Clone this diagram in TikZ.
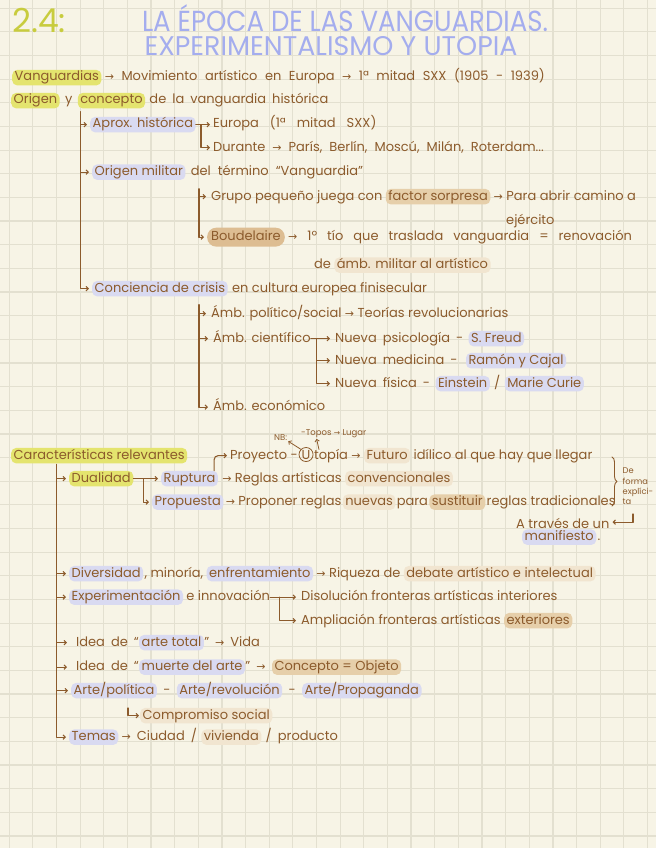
\documentclass[tikz,border=0pt]{standalone}
\usepackage{fontspec}
\setmainfont{Poppins}
\newfontfamily\symf{DejaVu Sans}
\usetikzlibrary{arrows.meta,calc,decorations.pathreplacing}
\definecolor{paper}{HTML}{F7F4E6}
\definecolor{gridc}{HTML}{E3E0D0}
\definecolor{ink}{HTML}{8C5B2C}
\definecolor{hly}{HTML}{E4E46E}
\definecolor{hll}{HTML}{D9DAF1}
\definecolor{hlt}{HTML}{E6CFAA}
\definecolor{hltd}{HTML}{DDBD92}
\definecolor{tyel}{HTML}{C8CC3E}
\definecolor{tlav}{HTML}{A4ADEE}
\newcommand\bodyfont{\fontsize{13}{15}\selectfont}
\newcommand\smallfont{\fontsize{8.5}{10.5}\selectfont}
\newcommand\notefont{\fontsize{8.3}{10.3}\selectfont}
\newcommand\ar{{\symf\fontsize{11}{11}\selectfont →}}
\newcommand\sar{{\symf\fontsize{7.5}{7.5}\selectfont →}}
\newcommand\wsp[1]{\spaceskip=#1\relax}
\begin{document}
\begin{tikzpicture}[x=1pt,y=-1pt,
 txt/.style={anchor=base west,inner sep=0pt,text=ink,font=\bodyfont,text height=9.3pt,text depth=2.6pt},
 hbox/.style={inner xsep=2.5pt,inner ysep=1.8pt,rounded corners=5pt},
 hy/.style={hbox,fill=hly},
 hl/.style={hbox,fill=hll},
 ht/.style={hbox,fill=hlt},
 htf/.style={hbox,fill=hlt!55},
 small/.style={anchor=base west,inner sep=0pt,text=ink,font=\smallfont},
 conn/.style={draw=ink,line width=1.1pt,line cap=round,line join=round},
 arr/.style={conn,-{Straight Barb[length=2.2pt,width=4.5pt]},shorten >=3pt},
]
\fill[paper] (0,0) rectangle (656,848);
\useasboundingbox (0,0) rectangle (656,848);
\foreach \i in {0,...,27} \draw[gridc,line width=1.2pt] ({9.2+23.64*\i},0) -- ++(0,848);
\foreach \j in {0,...,35} \draw[gridc,line width=1.2pt] (0,{8.2+23.65*\j}) -- ++(656,0);

% title
\node[anchor=base west,inner sep=0pt,text=tyel,font=\fontsize{33}{33}\selectfont] (num) at (12,33) {2.4:};
\node[anchor=south,inner sep=0pt,text=tlav,align=center,font=\fontsize{28}{24.5}\selectfont] (title) at (331,56) {\hspace*{28pt}\resizebox{406pt}{\height}{\fontsize{29}{29}\selectfont LA ÉPOCA DE LAS VANGUARDIAS.}\\\resizebox{373pt}{\height}{\fontsize{27}{27}\selectfont EXPERIMENTALISMO Y UTOPIA}};

% first lines
\node[txt,hy] (vang) at (12,81) {Vanguardias};
\node[txt] (vangdef) at ([xshift=3pt]vang.base east) {\wsp{7.5pt}\ar\ Movimiento artístico en Europa \ar\ 1ª mitad SXX (1905 - 1939)};
\node[txt,hy] (orig) at (11,104) {Origen};
\node[txt] (yy) at ([xshift=5pt]orig.base east) {y};
\node[txt,hy] (concep) at ([xshift=5pt]yy.base east) {concepto};
\node[txt] (hist) at ([xshift=4pt]concep.base east) {\wsp{6pt}de la vanguardia histórica};

% tree 1
\coordinate (r1) at (80.7,112);
\node[txt,hl] (aprox) at (90,128) {Aprox. histórica};
\node[txt] (europa) at (213,128) {\wsp{11pt}Europa (1ª mitad SXX)};
\node[txt] (durante) at (213,151) {\wsp{7pt}Durante \ar\ París, Berlín, Moscú, Milán, Roterdam...};
\draw[arr] (aprox.east) -- (europa.west);
\coordinate (k1) at ($(aprox.east)!0.3!(europa.west)$);
\draw[arr] (k1) |- (durante.west);
\node[txt,hl] (omil) at (92,175.5) {Origen militar};
\node[txt] (omil2) at ([xshift=5pt]omil.base east) {\wsp{7pt}del término “Vanguardia”};

% tree 2
\coordinate (r2) at (199,189);
\node[txt] (grupo) at (211,200) {Grupo pequeño juega con};
\node[txt,ht] (sorp) at ([xshift=3pt]grupo.base east) {factor sorpresa};
\node[txt] (para) at ([xshift=3pt]sorp.base east) {\ar\ Para abrir camino a};
\node[txt] (ejer) at (506,224) {ejército};
\node[txt,hbox,fill=hltd,inner xsep=4pt,inner ysep=3.5pt,rounded corners=9pt] (boud) at (207,240.5) {Boudelaire};
\node[txt] (boud2) at ([xshift=3pt]boud.base east) {\wsp{10pt}\ar\ 1º tío que traslada vanguardia = renovación};
\node[txt] (de1) at (314,268.5) {de};
\node[txt,htf] (ambm) at ([xshift=3pt]de1.base east) {ámb. militar al artístico};
\draw[arr,shorten >=5pt] (r2) |- (grupo.west);
\draw[arr] (r2) |- (boud.west);

\node[txt,hl] (concri) at (92,292) {Conciencia de crisis};
\node[txt] (concri2) at ([xshift=4pt]concri.base east) {en cultura europea finisecular};
\draw[arr] (r1) |- (aprox.west);
\draw[arr] (r1) |- (omil.west);
\draw[arr] (r1) |- (concri.west);

% tree 3
\coordinate (r3) at (199,305);
\node[txt] (pol) at (211,317) {Ámb. político/social \ar\ Teorías revolucionarias};
\node[txt] (cien) at (213,342) {Ámb. científico};
\node[txt] (psi) at (335,342) {\wsp{6pt}Nueva psicología -};
\node[txt,hl] (freud) at ([xshift=5pt]psi.base east) {S. Freud};
\node[txt] (med) at (335,364) {\wsp{6pt}Nueva medicina -};
\node[txt,hl] (cajal) at ([xshift=8pt]med.base east) {Ramón y Cajal};
\node[txt] (fis) at (335,387) {\wsp{6pt}Nueva física -};
\node[txt,hl] (einst) at ([xshift=5pt]fis.base east) {Einstein};
\node[txt] (sl) at ([xshift=4pt]einst.base east) {/};
\node[txt,hl] (curie) at ([xshift=4pt]sl.base east) {Marie Curie};
\node[txt] (eco) at (213,410.5) {Ámb. económico};
\draw[arr,shorten >=5pt] (r3) |- (pol.west);
\draw[arr,shorten >=5pt] (r3) |- (cien.west);
\draw[arr,shorten >=5pt] (r3) |- (eco.west);
\draw[arr,shorten >=5pt] (cien.east) -- (psi.west);
\coordinate (k3) at ($(cien.east)!0.25!(psi.west)$);
\draw[arr,shorten >=5pt] (k3) |- (med.west);
\draw[arr,shorten >=5pt] (k3) |- (fis.west);

% caracteristicas
\node[txt,hy] (carac) at (11,459) {Características relevantes};
\coordinate (r4) at (56.5,465);
\node[txt,hy] (dual) at (69,482) {Dualidad};
\node[txt,hl] (rup) at (161,482) {Ruptura};
\node[txt] (rup2) at ([xshift=4pt]rup.base east) {\ar\ Reglas artísticas};
\node[txt,htf] (conv) at ([xshift=3pt]rup2.base east) {convencionales};
\node[txt,hl] (prop) at (152,505.5) {Propuesta};
\node[txt] (prop2) at ([xshift=2pt]prop.base east) {\ar\ Proponer reglas};
\node[txt,htf] (nuev) at ([xshift=1pt]prop2.base east) {nuevas};
\node[txt] (para2) at ([xshift=1pt]nuev.base east) {para};
\node[txt,ht] (sust) at ([xshift=1pt]para2.base east) {sustituir};
\node[txt] (trad) at ([xshift=1pt]sust.base east) {reglas tradicionales};
\draw[arr] (dual.east) -- (rup.west);
\coordinate (k4) at ($(dual.east)!0.35!(rup.west)$);
\draw[arr] (k4) |- (prop.west);

% proyecto utopia
\node[txt] (proy) at (230,459) {Proyecto -};
\node[circle,draw=ink,line width=0.8pt,inner sep=0.5pt,minimum size=12.5pt,anchor=base,text=ink,font=\bodyfont] (uu) at ([xshift=8pt]proy.base east) {U};
\coordinate (ue) at (uu.base -| uu.east);
\node[txt] (topia) at ([xshift=0.5pt]ue) {topía \ar};
\node[txt,htf] (fut) at ([xshift=3pt]topia.base east) {Futuro};
\node[txt] (fut2) at ([xshift=3pt]fut.base east) {idílico al que hay que llegar};
\draw[arr,rounded corners=4pt] ([xshift=-4pt]rup.north east) |- (proy.west);
\node[small] (nb) at (274,440.5) {NB:};
\node[small] (topos) at (301,435.5) {-Topos};
\node[small] (lugar) at ([xshift=2pt]topos.base east) {\sar\ Lugar};
\draw[arr,shorten >=1pt,line width=0.8pt] (uu.north west) -- (nb.south east);
\draw[arr,shorten >=1pt,line width=0.8pt] ([xshift=5pt]topia.north west) -- (topos.south);

% brace and side note
\coordinate (brt) at (612,457);
\coordinate (brb) at (612,506);
\draw[conn,line width=0.9pt,decorate,decoration={brace,amplitude=5pt}] (brt) -- (brb);
\node[anchor=north west,inner sep=0pt,text=ink,font=\notefont,align=left] (forma) at (622.5,468) {De\\forma\\explíci-\\ta};
\coordinate (taa) at (633,514);
\node[txt] (trav) at (516,528.5) {A través de un};
\draw[arr] (taa) |- ([yshift=3pt]trav.east);
\node[txt,hl] (manif) at (522,540.5) {manifiesto};
\node[txt] (dot) at ([xshift=1pt]manif.base east) {.};

% list
\node[txt,hl] (div) at (69,577) {Diversidad};
\node[txt] (div2) at ([xshift=1pt]div.base east) {, minoría,};
\node[txt,hl] (enf) at ([xshift=3pt]div2.base east) {enfrentamiento};
\node[txt] (riq) at ([xshift=3pt]enf.base east) {\ar\ Riqueza de};
\node[txt,htf] (deb) at ([xshift=3pt]riq.base east) {debate artístico e intelectual};
\node[txt,hl] (expe) at (69,600.5) {Experimentación};
\node[txt] (expe2) at ([xshift=3pt]expe.base east) {e innovación};
\node[txt] (disol) at (301,600.5) {Disolución fronteras artísticas interiores};
\node[txt] (ampl) at (301,624) {Ampliación fronteras artísticas};
\node[txt,ht] (exter) at ([xshift=3pt]ampl.base east) {exteriores};
\draw[arr,shorten >=5pt] (expe2.east) -- (disol.west);
\coordinate (k5) at ($(expe2.east)!0.3!(disol.west)$);
\draw[arr,shorten >=5pt] (k5) |- (ampl.west);
\node[txt] (idea1) at (76,646) {\wsp{6pt}Idea de “};
\node[txt,hl] (atot) at (idea1.base east) {arte total};
\node[txt] (vida) at (atot.base east) {\wsp{6pt}” \ar\ Vida};
\node[txt] (idea2) at (76,670.5) {\wsp{6pt}Idea de “};
\node[txt,hl] (muer) at (idea2.base east) {muerte del arte};
\node[txt] (muer2) at (muer.base east) {\wsp{6pt}” \ar};
\node[txt,ht] (cobj) at ([xshift=6pt]muer2.base east) {Concepto = Objeto};
\node[txt,hl] (ap) at (71,694) {Arte/política};
\node[txt] (m1) at ([xshift=6pt]ap.base east) {-};
\node[txt,hl] (arev) at ([xshift=6pt]m1.base east) {Arte/revolución};
\node[txt] (m2) at ([xshift=6pt]arev.base east) {-};
\node[txt,hl] (aprop) at ([xshift=6pt]m2.base east) {Arte/Propaganda};
\coordinate (k6) at (128,708);
\node[txt,htf] (comp) at (140,719) {Compromiso social};
\draw[arr,shorten >=1pt] (k6) |- (comp.west);
\node[txt,hl] (temas) at (69,740.5) {Temas};
\node[txt] (temas2) at ([xshift=3pt]temas.base east) {\wsp{6pt}\ar\ Ciudad /};
\node[txt,htf] (viv) at ([xshift=4pt]temas2.base east) {vivienda};
\node[txt] (temas3) at ([xshift=4pt]viv.base east) {\wsp{6pt}/ producto};
\foreach \n in {dual,div,expe,ap,temas} \draw[arr] (r4) |- (\n.west);
\foreach \n in {idea1,idea2} \draw[arr,shorten >=9pt] (r4) |- (\n.west);
\end{tikzpicture}
\end{document}
